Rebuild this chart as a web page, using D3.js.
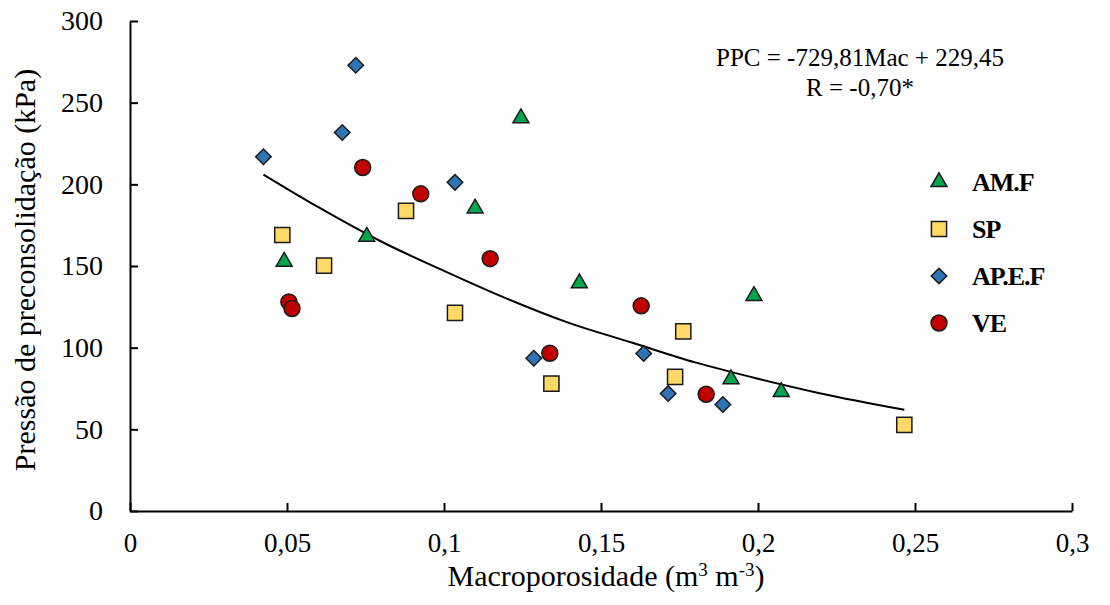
<html>

<head>
  <script src="https://d3js.org/d3.v7.min.js"></script>

  <style>
    body {
      margin: 0;
      background: #fff;
    }

    text {
      font-family: "Liberation Serif", "Times New Roman", serif;
      fill: #000;
    }
  </style>
</head>

<body>
  <svg id="chart" width="1110" height="605"></svg>

  <script>
    // values (Mac in m3 m-3, PPC in kPa)
    const amfMac = [0.0491, 0.0754, 0.1099, 0.1245, 0.1431, 0.1914, 0.1987, 0.2074];
    const amfPpc = [152.7, 168.0, 185.3, 240.5, 139.5, 80.7, 131.7, 72.9];

    const spMac = [0.0485, 0.0618, 0.0879, 0.1035, 0.1342, 0.1736, 0.1762, 0.2466];
    const spPpc = [169.0, 150.2, 183.8, 121.3, 78.0, 82.1, 110.0, 52.7];

    const apefMac = [0.0425, 0.0676, 0.0719, 0.1035, 0.1286, 0.1636, 0.1714, 0.1888];
    const apefPpc = [216.9, 231.7, 272.9, 201.2, 93.5, 96.4, 71.9, 65.2];

    const veMac = [0.0506, 0.0516, 0.0741, 0.0926, 0.1147, 0.1337, 0.1628, 0.1835];
    const vePpc = [128.0, 124.0, 210.3, 194.2, 154.5, 96.6, 125.6, 71.5];

    // points
    const trendMac = [0.0425, 0.06, 0.08, 0.1, 0.12, 0.14, 0.16, 0.18, 0.2, 0.22, 0.2466];
    const trendPpc = [206, 186, 165, 147, 130, 115, 103, 91, 81, 72, 62];

    const seriesNames = ["AM.F", "SP", "AP.E.F", "VE"];

    const xTicks = [0, 0.05, 0.1, 0.15, 0.2, 0.25, 0.3];
    const xTickLabels = ["0", "0,05", "0,1", "0,15", "0,2", "0,25", "0,3"];
    const yTicks = [0, 50, 100, 150, 200, 250, 300];
    const yTickLabels = ["0", "50", "100", "150", "200", "250", "300"];

    const equationLines = ["PPC = -729,81Mac + 229,45", "R = -0,70*"];

    const svg = d3.select("svg#chart");
    const margin = { top: 21, right: 38, bottom: 94, left: 130 };
    const width = +svg.attr("width");
    const height = +svg.attr("height");
    const chartWidth = width - margin.left - margin.right;
    const chartHeight = height - margin.top - margin.bottom;

    const xScale = d3.scaleLinear().domain([0, 0.3]).range([margin.left, margin.left + chartWidth]);
    const yScale = d3.scaleLinear().domain([0, 300]).range([margin.top + chartHeight, margin.top]);

    const styles = [
      { type: d3.symbolTriangle, size: 110, fill: "#00a550", rot: 0 },
      { type: d3.symbolSquare, size: 230, fill: "#ffd966", rot: 0 },
      { type: d3.symbolSquare, size: 120, fill: "#2e75b6", rot: 45 },
      { type: d3.symbolCircle, size: 200, fill: "#c00000", rot: 0 }
    ];

    const series = [
      { name: seriesNames[0], mac: amfMac, ppc: amfPpc },
      { name: seriesNames[1], mac: spMac, ppc: spPpc },
      { name: seriesNames[2], mac: apefMac, ppc: apefPpc },
      { name: seriesNames[3], mac: veMac, ppc: vePpc }
    ];

    // axes
    let leftAxis = d3.axisLeft(yScale)
      .tickValues(yTicks)
      .tickFormat((d, i) => yTickLabels[i])
      .tickSizeInner(-8)
      .tickSizeOuter(0)
      .tickPadding(27);
    svg.append("g")
      .attr("class", "y axis")
      .attr("transform", `translate(${margin.left},0)`)
      .call(leftAxis);

    let bottomAxis = d3.axisBottom(xScale)
      .tickValues(xTicks)
      .tickFormat((d, i) => xTickLabels[i])
      .tickSizeInner(-8)
      .tickSizeOuter(0)
      .tickPadding(22);
    svg.append("g")
      .attr("class", "x axis")
      .attr("transform", `translate(0,${margin.top + chartHeight})`)
      .call(bottomAxis);

    svg.selectAll(".axis")
      .attr("font-family", null)
      .attr("font-size", null);
    svg.selectAll(".axis path.domain, .axis line")
      .attr("stroke", "#000")
      .attr("stroke-width", 2);
    svg.selectAll(".y.axis text")
      .style("font-size", "28px");
    svg.selectAll(".x.axis text")
      .style("font-size", "27px");

    // axis titles
    svg.append("text")
      .attr("x", (margin.left + margin.left + chartWidth) / 2 + 5)
      .attr("y", 586)
      .attr("text-anchor", "middle")
      .style("font-size", "30px")
      .html('Macroporosidade (m<tspan dy="-10" font-size="19">3</tspan><tspan dy="10"> m</tspan><tspan dy="-10" font-size="19">-3</tspan><tspan dy="10">)</tspan>');

    svg.append("text")
      .attr("transform", "translate(35,270) rotate(-90)")
      .attr("text-anchor", "middle")
      .style("font-size", "30px")
      .text("Pressão de preconsolidação (kPa)");

    // trend curve
    const line = d3.line()
      .x((d, i) => xScale(trendMac[i]))
      .y((d, i) => yScale(trendPpc[i]))
      .curve(d3.curveMonotoneX);
    svg.append("path")
      .datum(trendMac)
      .attr("d", line)
      .attr("fill", "none")
      .attr("stroke", "#000")
      .attr("stroke-width", 2);

    // points
    series.forEach((s, k) => {
      const st = styles[k];
      svg.append("g")
        .selectAll("path")
        .data(s.mac)
        .enter().append("path")
        .attr("d", d3.symbol().type(st.type).size(st.size))
        .attr("transform", (d, i) => `translate(${xScale(d)},${yScale(s.ppc[i])}) rotate(${st.rot})`)
        .attr("fill", st.fill)
        .attr("stroke", "#1a1a1a")
        .attr("stroke-width", 1.5);
    });

    // equation
    svg.append("g").selectAll("text")
      .data(equationLines)
      .enter().append("text")
      .attr("x", 860)
      .attr("y", (d, i) => 66 + i * 30)
      .attr("text-anchor", "middle")
      .style("font-size", "25px")
      .text(d => d);

    // legend
    const legend = svg.append("g").attr("transform", "translate(939,182)");
    const legendItems = legend.selectAll("g")
      .data(series)
      .enter().append("g")
      .attr("transform", (d, i) => `translate(0,${i * 47})`);

    legendItems.append("path")
      .attr("d", (d, i) => d3.symbol().type(styles[i].type).size(styles[i].size)())
      .attr("transform", (d, i) => `rotate(${styles[i].rot})`)
      .attr("fill", (d, i) => styles[i].fill)
      .attr("stroke", "#1a1a1a")
      .attr("stroke-width", 1.5);

    legendItems.append("text")
      .attr("x", 33)
      .attr("y", 9)
      .style("font-size", "26px")
      .style("font-weight", "bold")
      .style("letter-spacing", "-1px")
      .text(d => d.name);
  </script>

</body>

</html>
